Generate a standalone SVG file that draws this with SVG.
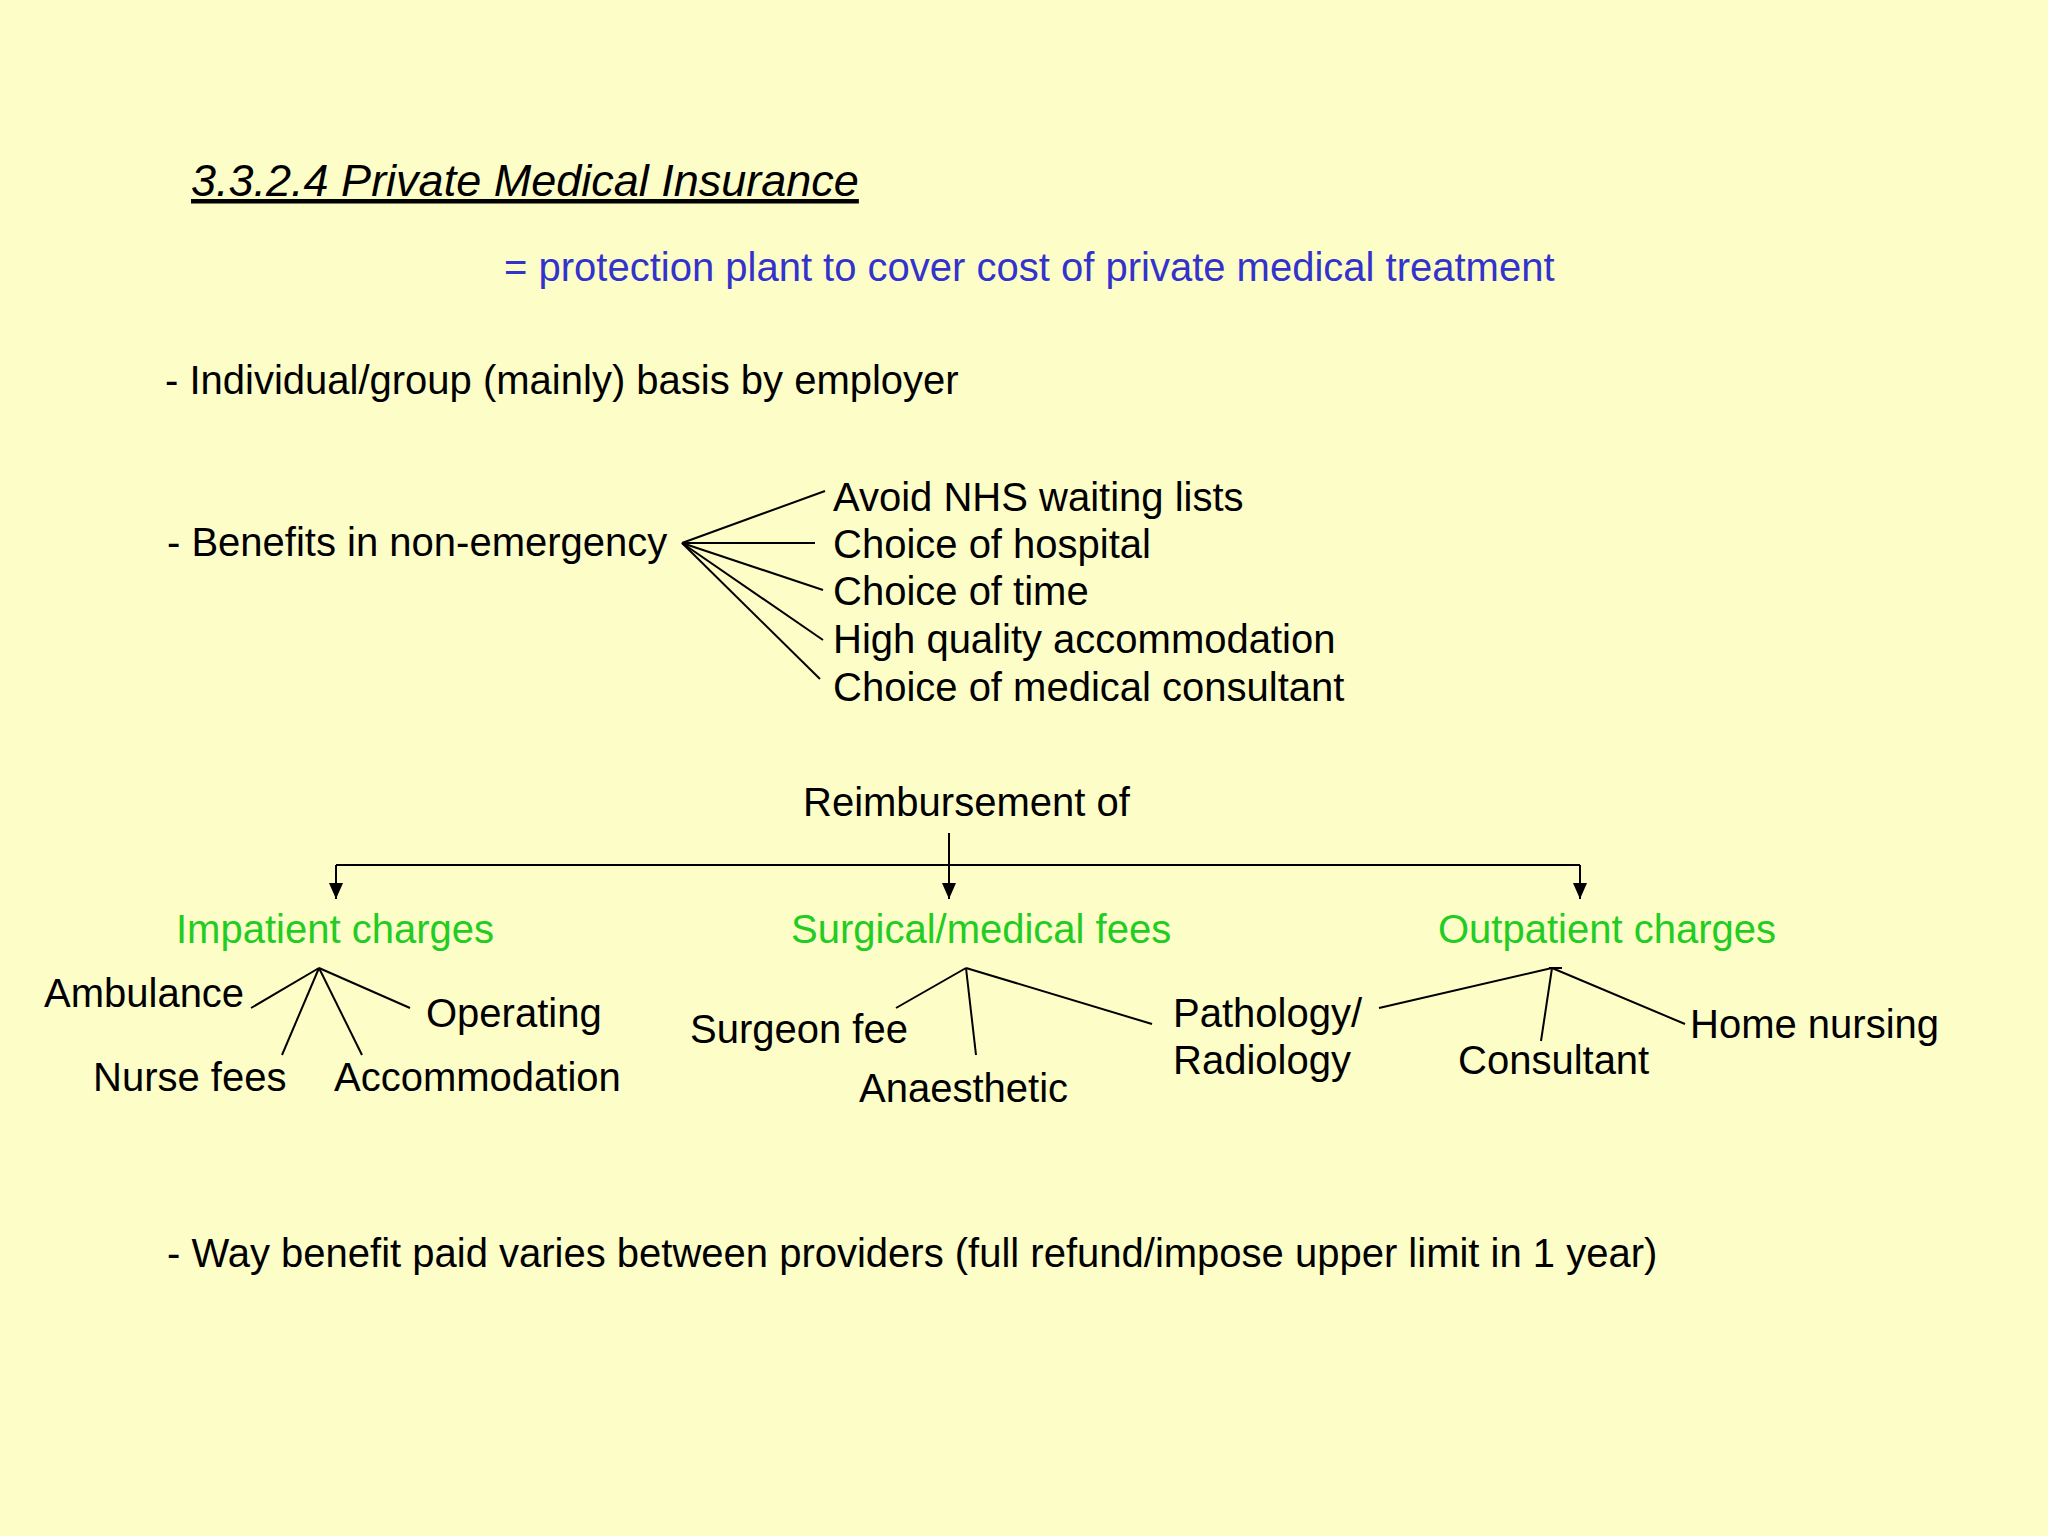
<svg xmlns="http://www.w3.org/2000/svg" width="2048" height="1536" viewBox="0 0 2048 1536">
<defs>
<style>
text{font-family:"Liberation Sans",Arial,sans-serif;font-size:40px;fill:#000}
.g{fill:#22cc22}
.b{fill:#3333cc}
line{stroke:#000;stroke-width:2;fill:none}
</style>
<marker id="d" markerWidth="14" markerHeight="16" refX="7" refY="16" orient="0" markerUnits="userSpaceOnUse"><path d="M0,0 L14,0 L7,16 z" fill="#000"/></marker>
</defs>
<rect width="2048" height="1536" fill="#fdfdc8"/>
<g id="title"><text x="191" y="196" style="font-size:45px;font-style:italic;text-decoration:underline">3.3.2.4 Private Medical Insurance</text></g>
<g id="subtitle"><text class="b" x="504" y="281">= protection plant to cover cost of private medical treatment</text></g>
<g id="individual"><text x="165" y="394">- Individual/group (mainly) basis by employer</text></g>
<g id="benefits"><text x="167" y="556">- Benefits in non-emergency</text></g>
<g id="b1"><text x="833" y="511">Avoid NHS waiting lists</text></g>
<g id="b2"><text x="833" y="558">Choice of hospital</text></g>
<g id="b3"><text x="833" y="605">Choice of time</text></g>
<g id="b4"><text x="833" y="653">High quality accommodation</text></g>
<g id="b5"><text x="833" y="701">Choice of medical consultant</text></g>
<g id="reimb"><text x="803" y="816">Reimbursement of</text></g>
<g id="inpatient"><text class="g" x="176" y="943">Impatient charges</text></g>
<g id="surgical"><text class="g" x="791" y="943">Surgical/medical fees</text></g>
<g id="outpatient"><text class="g" x="1438" y="943">Outpatient charges</text></g>
<g id="ambulance"><text x="44" y="1007">Ambulance</text></g>
<g id="operating"><text x="426" y="1027">Operating</text></g>
<g id="nurse"><text x="93" y="1091">Nurse fees</text></g>
<g id="accom"><text x="334" y="1091">Accommodation</text></g>
<g id="surgeon"><text x="690" y="1043">Surgeon fee</text></g>
<g id="anaes"><text x="859" y="1102">Anaesthetic</text></g>
<g id="path"><text x="1173" y="1027">Pathology/</text><text x="1173" y="1074">Radiology</text></g>
<g id="consult"><text x="1458" y="1074">Consultant</text></g>
<g id="home"><text x="1690" y="1038">Home nursing</text></g>
<g id="way"><text x="167" y="1267">- Way benefit paid varies between providers (full refund/impose upper limit in 1 year)</text></g>
<g id="connectors">
<line x1="682" y1="543" x2="825" y2="491"/>
<line x1="682" y1="543" x2="815" y2="543"/>
<line x1="682" y1="543" x2="823" y2="590"/>
<line x1="682" y1="543" x2="823" y2="640"/>
<line x1="682" y1="543" x2="820" y2="679"/>
<line x1="336" y1="865" x2="1580" y2="865"/>
<line x1="336" y1="865" x2="336" y2="899" marker-end="url(#d)"/>
<line x1="949" y1="833" x2="949" y2="899" marker-end="url(#d)"/>
<line x1="1580" y1="865" x2="1580" y2="899" marker-end="url(#d)"/>
<line x1="319" y1="968" x2="251" y2="1008"/>
<line x1="319" y1="968" x2="282" y2="1055"/>
<line x1="319" y1="968" x2="362" y2="1055"/>
<line x1="319" y1="968" x2="410" y2="1008"/>
<line x1="966" y1="968" x2="896" y2="1008"/>
<line x1="966" y1="968" x2="976" y2="1055"/>
<line x1="966" y1="968" x2="1152" y2="1024"/>
<line x1="1552" y1="968" x2="1379" y2="1008"/>
<line x1="1552" y1="968" x2="1541" y2="1041"/>
<line x1="1552" y1="968" x2="1685" y2="1024"/>
<line x1="1549" y1="968" x2="1562" y2="968"/>
</g>
</svg>
